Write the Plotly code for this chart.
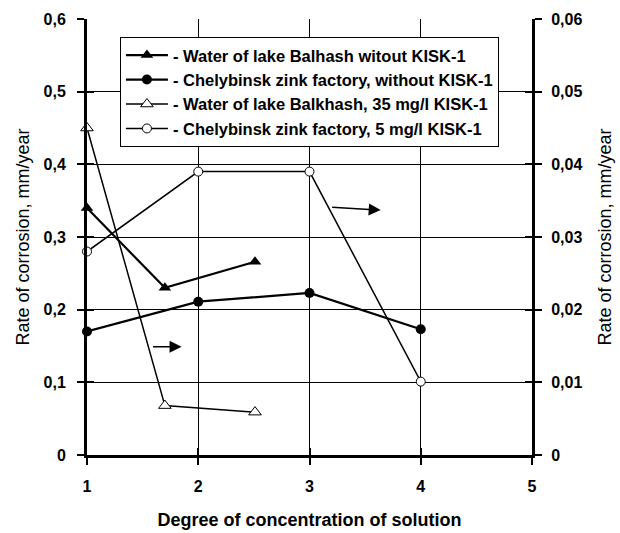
import plotly.graph_objects as go

# Data
x_bal = [1, 1.70, 2.51]
y_bal = [0.34, 0.23, 0.266]            # left axis
x_che = [1, 2, 3, 4]
y_che = [0.17, 0.211, 0.223, 0.173]    # left axis
x_bal_k = [1, 1.70, 2.51]
y_bal_k = [0.045, 0.0068, 0.0059]      # right axis
x_che_k = [1, 2, 3, 4]
y_che_k = [0.028, 0.039, 0.039, 0.0101]  # right axis

names = ["- Water of lake Balhash witout KISK-1",
         "- Chelybinsk zink factory, without KISK-1",
         "- Water of lake Balkhash, 35 mg/l KISK-1",
         "- Chelybinsk zink factory, 5 mg/l KISK-1"]

left_ticks = [0, 0.1, 0.2, 0.3, 0.4, 0.5, 0.6]
left_text = ["0", "0,1", "0,2", "0,3", "0,4", "0,5", "0,6"]
right_ticks = [0, 0.01, 0.02, 0.03, 0.04, 0.05, 0.06]
right_text = ["0", "0,01", "0,02", "0,03", "0,04", "0,05", "0,06"]
x_ticks = [1, 2, 3, 4, 5]

FONT = "Liberation Sans, Arial, sans-serif"

fig = go.Figure()
fig.add_trace(go.Scatter(x=x_bal, y=y_bal, name=names[0], mode="lines+markers",
                         line=dict(color="black", width=2.2),
                         marker=dict(symbol="triangle-up", size=11, color="black"),
                         cliponaxis=False))
fig.add_trace(go.Scatter(x=x_che, y=y_che, name=names[1], mode="lines+markers",
                         line=dict(color="black", width=2.2),
                         marker=dict(symbol="circle", size=10, color="black"),
                         cliponaxis=False))
fig.add_trace(go.Scatter(x=x_bal_k, y=y_bal_k, name=names[2], mode="lines+markers",
                         yaxis="y2", line=dict(color="black", width=1.5),
                         marker=dict(symbol="triangle-up", size=11, color="white",
                                     line=dict(color="black", width=1)),
                         cliponaxis=False))
fig.add_trace(go.Scatter(x=x_che_k, y=y_che_k, name=names[3], mode="lines+markers",
                         yaxis="y2", line=dict(color="black", width=1.5),
                         marker=dict(symbol="circle", size=9, color="white",
                                     line=dict(color="black", width=1)),
                         cliponaxis=False))
# empty helper traces so the inner tick axes get drawn
fig.add_trace(go.Scatter(x=[], y=[], xaxis="x2", yaxis="y3", showlegend=False, hoverinfo="skip"))
fig.add_trace(go.Scatter(x=[], y=[], xaxis="x2", yaxis="y4", showlegend=False, hoverinfo="skip"))

# arrows (pointing to right axis)
arrows = [((1.58, 0.149), (1.85, 0.149)), ((3.19, 0.341), (3.64, 0.337))]
for (tx, ty), (hx, hy) in arrows:
    fig.add_annotation(x=hx, y=hy, ax=tx, ay=ty, xref="x", yref="y", axref="x", ayref="y",
                       showarrow=True, arrowhead=2, arrowsize=1.6, arrowwidth=1.5,
                       arrowcolor="black", text="")

tick_common = dict(ticks="outside", ticklen=7, tickwidth=2, tickcolor="black",
                   zeroline=False, automargin=False)
inner_common = dict(showticklabels=False, showgrid=False, showline=False,
                    ticks="inside", ticklen=7, tickwidth=2, tickcolor="black",
                    zeroline=False, automargin=False)

fig.update_layout(
    width=620, height=533,
    margin=dict(l=87, r=88, t=19, b=78),
    paper_bgcolor="white", plot_bgcolor="white",
    font=dict(family=FONT, color="black", size=15),
    showlegend=True,
    legend=dict(x=0.074, y=0.959, xanchor="left", yanchor="top",
                bgcolor="white", bordercolor="black", borderwidth=1,
                font=dict(size=16.5, family=FONT, weight="bold"),
                tracegroupgap=0, itemwidth=42),
    xaxis=dict(range=[1, 5], tickvals=x_ticks, ticktext=[str(v) for v in x_ticks],
               showgrid=True, gridcolor="black", gridwidth=1,
               showline=True, linecolor="black", linewidth=3,
               ticklabelstandoff=8,
               title=dict(text="Degree of concentration of solution", standoff=20,
                          font=dict(size=18, weight="bold")),
               tickfont=dict(size=16, weight="bold"), **tick_common),
    xaxis2=dict(range=[1, 5], tickvals=x_ticks, overlaying="x", side="bottom", **inner_common),
    yaxis=dict(range=[0, 0.6], tickvals=left_ticks, ticktext=left_text,
               showgrid=True, gridcolor="black", gridwidth=1,
               showline=True, linecolor="black", linewidth=3,
               ticklabelstandoff=8,
               title=dict(text="Rate of corrosion, mm/year", standoff=10,
                          font=dict(size=18)),
               tickfont=dict(size=16, weight="bold"), **tick_common),
    yaxis2=dict(range=[0, 0.06], tickvals=right_ticks, ticktext=right_text,
                overlaying="y", side="right", showgrid=False,
                showline=True, linecolor="black", linewidth=3,
                ticklabelstandoff=6,
                title=dict(text="Rate of corrosion, mm/year", standoff=17,
                           font=dict(size=18)),
                tickfont=dict(size=16, weight="bold"), **tick_common),
    yaxis3=dict(range=[0, 0.6], tickvals=left_ticks, overlaying="y", side="left", **inner_common),
    yaxis4=dict(range=[0, 0.06], tickvals=right_ticks, overlaying="y", side="right", **inner_common),
)

fig.write_html("out.html")
